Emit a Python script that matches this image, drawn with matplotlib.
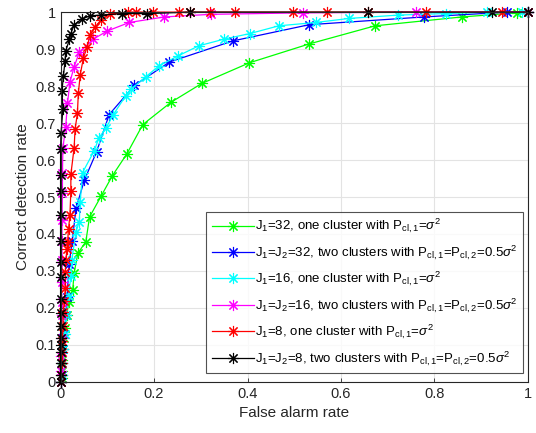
import matplotlib
matplotlib.use("Agg")
import matplotlib.pyplot as plt
from matplotlib.ticker import FuncFormatter

plt.rcParams['font.family'] = ['Liberation Sans', 'DejaVu Sans']
plt.rcParams['mathtext.fontset'] = 'custom'
plt.rcParams['mathtext.rm'] = 'Liberation Sans'
plt.rcParams['mathtext.it'] = 'Liberation Sans:italic'

# ROC curves: false alarm rate (x) vs correct detection rate (y)
fa_j32_one = [0, 0.002, 0.003, 0.004, 0.005, 0.007, 0.0096, 0.013, 0.018, 0.026, 0.029, 0.037, 0.054,
              0.062, 0.087, 0.111, 0.142, 0.176, 0.236, 0.302, 0.404, 0.532, 0.673, 0.859, 0.976, 1.0]
pd_j32_one = [0, 0.01, 0.03, 0.06, 0.09, 0.12, 0.145, 0.181, 0.217, 0.249, 0.294, 0.348, 0.379,
              0.446, 0.503, 0.558, 0.617, 0.696, 0.756, 0.807, 0.863, 0.914, 0.963, 0.987, 0.998, 1.0]

fa_j32_two = [0, 0.002, 0.004, 0.006, 0.008, 0.011, 0.014, 0.018, 0.025, 0.033, 0.051, 0.077, 0.104,
              0.158, 0.233, 0.368, 0.532, 0.778, 0.956, 1.0]
pd_j32_two = [0, 0.02, 0.05, 0.09, 0.13, 0.18, 0.23, 0.318, 0.381, 0.469, 0.546, 0.622, 0.723,
              0.802, 0.865, 0.922, 0.966, 0.987, 1.0, 1.0]

fa_j16_one = [0, 0.002, 0.004, 0.006, 0.009, 0.012, 0.017, 0.022, 0.024, 0.033, 0.040, 0.042, 0.047,
              0.072, 0.082, 0.097, 0.113, 0.139, 0.150, 0.182, 0.211, 0.252, 0.296, 0.350, 0.405,
              0.467, 0.546, 0.618, 0.723, 0.824, 0.912, 0.987, 1.0]
pd_j16_one = [0, 0.02, 0.05, 0.09, 0.13, 0.18, 0.231, 0.287, 0.33, 0.406, 0.433, 0.486, 0.566,
              0.625, 0.660, 0.686, 0.723, 0.773, 0.791, 0.825, 0.855, 0.882, 0.909, 0.927, 0.942,
              0.963, 0.972, 0.983, 0.992, 0.996, 1.0, 1.0, 1.0]

fa_j16_two = [0, 0.001, 0.001, 0.002, 0.002, 0.002, 0.003, 0.003, 0.003, 0.003, 0.004, 0.004, 0.005,
              0.011, 0.0147, 0.0203, 0.029, 0.040, 0.070, 0.100, 0.147, 0.222, 0.321, 0.519, 0.760, 1.0]
pd_j16_two = [0, 0.03, 0.07, 0.12, 0.18, 0.217, 0.271, 0.33, 0.38, 0.438, 0.51, 0.564, 0.633,
              0.690, 0.753, 0.812, 0.852, 0.891, 0.927, 0.949, 0.972, 0.987, 0.994, 0.998, 1.0, 1.0]

fa_j8_one = [0, 0.001, 0.002, 0.003, 0.004, 0.005, 0.006, 0.008, 0.010, 0.010, 0.012, 0.013, 0.015,
             0.017, 0.020, 0.022, 0.022, 0.029, 0.031, 0.036, 0.038, 0.042, 0.049, 0.057, 0.063,
             0.074, 0.086, 0.106, 0.145, 0.161, 0.197, 0.254, 0.276, 0.319, 0.373, 0.498, 0.571,
             0.657, 0.781, 0.945, 1.0]
pd_j8_one = [0, 0.02, 0.05, 0.08, 0.11, 0.15, 0.19, 0.22, 0.253, 0.298, 0.33, 0.359, 0.379,
             0.413, 0.451, 0.516, 0.561, 0.633, 0.683, 0.726, 0.780, 0.830, 0.877, 0.906, 0.938,
             0.960, 0.978, 0.995, 1.0, 1.0, 1.0, 1.0, 1.0, 1.0, 1.0, 1.0, 1.0,
             1.0, 1.0, 1.0, 1.0]

fa_j8_two = [0, 0, 0, 0, 0, 0, 0, 0, 0, 0, 0, 0, 0, 0, 0, 0, 0.001, 0.005, 0.003, 0.006, 0.0096,
             0.011, 0.019, 0.022, 0.029, 0.045, 0.063, 0.086, 0.131, 0.184, 0.276, 0.657, 0.922, 1.0]
pd_j8_two = [0, 0.02, 0.05, 0.08, 0.10, 0.12, 0.15, 0.185, 0.225, 0.285, 0.325, 0.38, 0.451, 0.515,
             0.56, 0.63, 0.672, 0.738, 0.787, 0.827, 0.868, 0.895, 0.926, 0.942, 0.966, 0.981,
             0.990, 0.992, 0.996, 0.996, 1.0, 1.0, 1.0, 1.0]

labels = [
    r'J$_1$=32, one cluster with P$_{\rm cl,1}$=$\sigma^2$',
    r'J$_1$=J$_2$=32, two clusters with P$_{\rm cl,1}$=P$_{\rm cl,2}$=0.5$\sigma^2$',
    r'J$_1$=16, one cluster with P$_{\rm cl,1}$=$\sigma^2$',
    r'J$_1$=J$_2$=16, two clusters with P$_{\rm cl,1}$=P$_{\rm cl,2}$=0.5$\sigma^2$',
    r'J$_1$=8, one cluster with P$_{\rm cl,1}$=$\sigma^2$',
    r'J$_1$=J$_2$=8, two clusters with P$_{\rm cl,1}$=P$_{\rm cl,2}$=0.5$\sigma^2$',
]
colors = ['#00ff00', '#0000ff', '#00ffff', '#ff00ff', '#ff0000', '#000000']
series = [(fa_j32_one, pd_j32_one), (fa_j32_two, pd_j32_two), (fa_j16_one, pd_j16_one),
          (fa_j16_two, pd_j16_two), (fa_j8_one, pd_j8_one), (fa_j8_two, pd_j8_two)]

fig = plt.figure(figsize=(5.36, 4.33), dpi=100)
ax = fig.add_axes([0.113, 0.118, 0.872, 0.854])

# asterisk marker: eight spokes
star = (8, 2, 0)
for (x, y), c, lab in zip(series, colors, labels):
    ax.plot(x, y, '-', color=c, marker=star, markersize=8, linewidth=0.9,
            markeredgewidth=0.8, label=lab, clip_on=False)

ax.set_xlim(0, 1)
ax.set_ylim(0, 1)
ax.set_xticks([0, 0.2, 0.4, 0.6, 0.8, 1])
ax.set_yticks([i / 10 for i in range(11)])
fmt = FuncFormatter(lambda v, p: f'{v:g}')
ax.xaxis.set_major_formatter(fmt)
ax.yaxis.set_major_formatter(fmt)
ax.grid(True, color='#e3e3e3', linewidth=0.8)
ax.set_axisbelow(True)
ax.tick_params(direction='in', length=3, labelsize=10.5, colors='#262626', width=0.6,
               top=False, right=False)
for s in ax.spines.values():
    s.set_color('#262626')
    s.set_linewidth(0.8)
ax.set_xlabel('False alarm rate', fontsize=11, color='#262626')
ax.set_ylabel('Correct detection rate', fontsize=11, color='#262626')

leg = ax.legend(loc='lower right', bbox_to_anchor=(0.99, 0.024), borderaxespad=0,
                fontsize=9.5, handlelength=3.2, frameon=True,
                fancybox=False, edgecolor='#262626',
                labelspacing=0.62, handletextpad=0.1, borderpad=0.4)
leg.get_frame().set_linewidth(0.8)

fig.savefig('out.png', dpi=100)
